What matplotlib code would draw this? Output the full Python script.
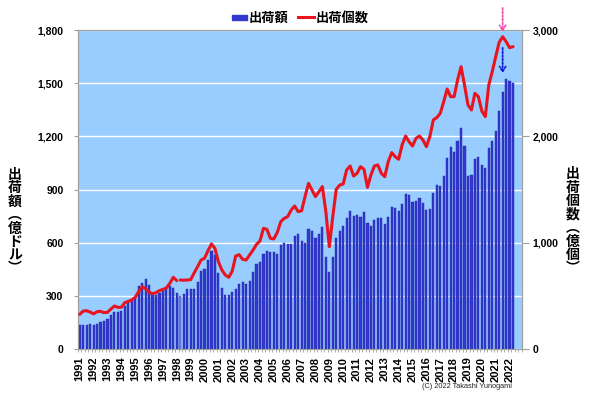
import numpy as np
import matplotlib
matplotlib.use('Agg')
import matplotlib.pyplot as plt
from matplotlib.lines import Line2D
from matplotlib.patches import Rectangle

plt.rcParams['font.family'] = ['Liberation Sans', 'Noto Sans CJK JP', 'DejaVu Sans']

# ---- data ----
years = [str(y) for y in range(1991, 2023)]          # label on Q1 of each year
n_slots = 128                                           # 1991Q1 .. 2022Q4 on the axis

# 出荷額 (億ドル), quarterly 1991Q1 - 2022Q2
value = [135, 135, 137, 139, 136, 141, 150, 158, 167, 190, 207, 209,
         216, 243, 265, 271, 292, 357, 370, 393, 361, 310, 305, 318,
         329, 342, 355, 342, 314, 299, 308, 337, 337, 337, 378, 440,
         451, 502, 553, 530, 431, 344, 307, 307, 322, 340, 369, 376,
         369, 382, 435, 481, 489, 536, 551, 549, 545, 536, 587, 596,
         591, 591, 638, 649, 611, 596, 675, 666, 624, 647, 687, 517,
         435, 521, 624, 668, 694, 741, 781, 752, 756, 743, 771, 713,
         694, 726, 739, 737, 703, 743, 803, 794, 781, 818, 873, 871,
         828, 835, 850, 826, 784, 790, 878, 925, 920, 974, 1076, 1138,
         1112, 1176, 1245, 1144, 976, 980, 1072, 1083, 1040, 1020, 1132, 1174,
         1230, 1343, 1452, 1524, 1514, 1501]

# 出荷個数 (億個), old series 1991Q1 - 1998Q1
count_old = [326, 357, 360, 348, 330, 351, 354, 342, 345, 376, 404, 392,
             392, 436, 448, 461, 486, 539, 586, 567, 536, 520, 530, 549,
             561, 574, 618, 674, 643]
# 出荷個数 (億個), new series 1998Q2 - 2022Q2
count_new = [649, 647, 649, 652, 715, 774, 837,
             853, 925, 988, 947, 821, 743, 696, 674, 734, 875, 887, 843,
             837, 884, 931, 984, 1016, 1135, 1125, 1041, 1035, 1097, 1198, 1229,
             1245, 1307, 1345, 1292, 1300, 1433, 1558, 1495, 1433, 1480, 1527, 1292,
             962, 1245, 1502, 1542, 1552, 1684, 1721, 1627, 1652, 1715, 1690, 1520,
             1636, 1721, 1731, 1652, 1621, 1762, 1847, 1809, 1784, 1919, 2003, 1950,
             1909, 1981, 2003, 1966, 1903, 1997, 2154, 2176, 2216, 2326, 2445, 2373,
             2373, 2530, 2655, 2483, 2295, 2248, 2405, 2373, 2238, 2185, 2483, 2608,
             2749, 2884, 2937, 2891, 2834, 2843]

left_ticks = [0, 300, 600, 900, 1200, 1500, 1800]
right_ticks = [0, 1000, 2000, 3000]

# ---- figure ----
W, H = 590, 394
fig = plt.figure(figsize=(W / 100, H / 100), dpi=100)
fx = lambda px: px / W
fy = lambda py: 1 - py / H

L, R, T, B = 78, 521.7, 30, 349
ax = fig.add_axes([fx(L), fy(B), fx(R) - fx(L), fy(T) - fy(B)])
ax.set_facecolor('#99CCFF')

x = np.arange(len(value))
bar_colors = ['#3238D0'] * len(value)
bar_colors[len(count_old)] = '#6C8EEA'
ax.bar(x, value, width=0.62, color=bar_colors, edgecolor='#2428A0',
       linewidth=0.3, zorder=3)

ax.set_xlim(-0.5, n_slots - 0.5)
ax.set_ylim(left_ticks[0], left_ticks[-1])
ax.set_yticks(left_ticks)
ax.set_yticklabels([f'{v:,}' for v in left_ticks])
ax.yaxis.grid(True, color='white', lw=1.0)
ax.set_axisbelow(True)

ax.set_xticks(np.arange(0, 4 * len(years), 4))
ax.set_xticklabels(years, rotation=90, fontsize=8, fontweight='bold')
ax.set_xticks(np.arange(-0.5, n_slots, 1), minor=True)
ax.tick_params(axis='x', which='major', length=0, pad=5.5)
ax.tick_params(axis='x', which='minor', length=2.5, color='#A0A0A0', width=0.6)
ax.tick_params(axis='y', length=3, color='#A0A0A0', width=0.8, pad=7.5,
               labelsize=7.5)
for lab in ax.get_yticklabels():
    lab.set_fontweight('bold')
for sp in ax.spines.values():
    sp.set_color('#A0A0A0')
    sp.set_linewidth(0.8)

ax2 = ax.twinx()
ax2.set_ylim(right_ticks[0], right_ticks[-1])
ax2.set_yticks(right_ticks)
ax2.set_yticklabels([f'{v:,}' for v in right_ticks])
ax2.tick_params(axis='y', length=5, color='#A0A0A0', width=0.8, pad=3,
                labelsize=7.5)
for lab in ax2.get_yticklabels():
    lab.set_fontweight('bold')
for sp in ax2.spines.values():
    sp.set_color('#A0A0A0')
    sp.set_linewidth(0.8)

red = '#E8141E'
n_old = len(count_old)
ax2.plot(x[:n_old], count_old, color=red, lw=2.2, solid_joinstyle='round',
         solid_capstyle='round', zorder=5)
ax2.plot(x[n_old:], count_new, color=red, lw=2.2, solid_joinstyle='round',
         solid_capstyle='round', zorder=5)

# arrows marking the peak
peak_i = n_old + int(np.argmax(count_new))
peak_v = max(count_new)
bar_peak_r = max(value) * right_ticks[-1] / left_ticks[-1]
ax2.annotate('', xy=(peak_i, peak_v + 45), xytext=(peak_i, peak_v + 270),
             arrowprops=dict(arrowstyle='->,head_length=0.35,head_width=0.22',
                             color='#F050B0', lw=1.3, linestyle=(0, (1, 1)),
                             shrinkA=0, shrinkB=0),
             annotation_clip=False)
ax2.annotate('', xy=(peak_i, bar_peak_r + 55), xytext=(peak_i, peak_v - 105),
             arrowprops=dict(arrowstyle='->,head_length=0.35,head_width=0.22',
                             color='#1020D0', lw=1.3, linestyle=(0, (1, 1)),
                             shrinkA=0, shrinkB=0),
             annotation_clip=False)

# vertical axis titles
cjk = ['Noto Sans CJK JP', 'DejaVu Sans']
left_title = ['出', '荷', '額', '︵', '億', 'ド', 'ル', '︶']
right_title = ['出', '荷', '個', '数', '︵', '億', '個', '︶']
for k, ch in enumerate(left_title):
    fig.text(fx(15), fy(175 + 13.4 * k), ch, ha='center', va='center',
             fontsize=10, fontweight='bold', family=cjk)
for k, ch in enumerate(right_title):
    fig.text(fx(573), fy(174 + 13.5 * k), ch, ha='center', va='center',
             fontsize=10, fontweight='bold', family=cjk)

# legend
fig.patches.append(Rectangle((fx(232), fy(20)), fx(15), 5 / H,
                             transform=fig.transFigure, color='#3238D0'))
fig.text(fx(248.5), fy(17.5), '出荷額', ha='left', va='center', fontsize=9.5,
         fontweight='bold', family=cjk)
fig.lines.append(Line2D([fx(298), fx(314)], [fy(17.3), fy(17.3)],
                        transform=fig.transFigure, color=red, lw=2.2))
fig.text(fx(315.5), fy(17.5), '出荷個数', ha='left', va='center', fontsize=9.5,
         fontweight='bold', family=cjk)

fig.text(fx(512), fy(386), '(C) 2022 Takashi Yunogami', ha='right',
         va='center', fontsize=5.3, color='#222222')

fig.savefig('out.png', dpi=100)
